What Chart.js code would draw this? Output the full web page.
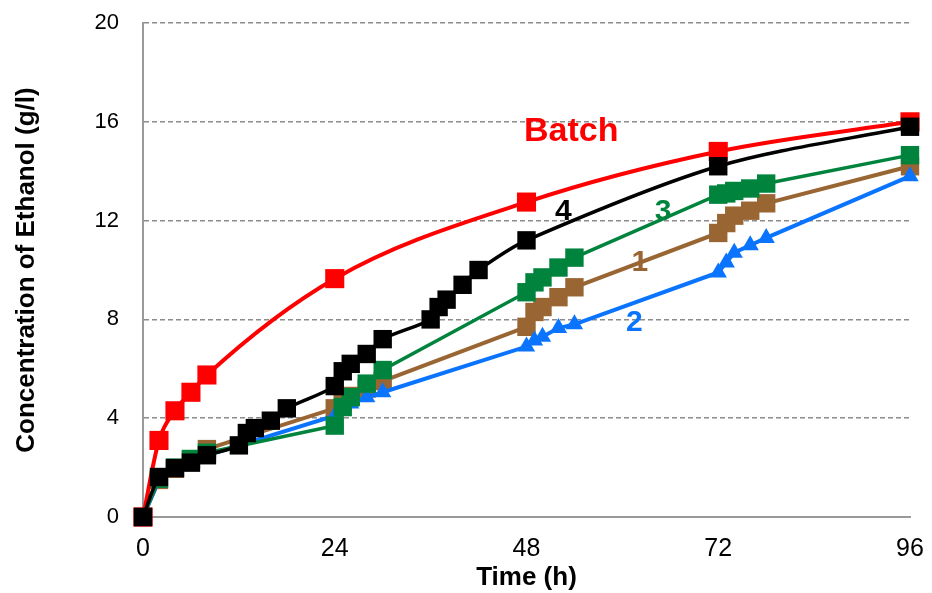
<!DOCTYPE html>
<html>
<head>
<meta charset="utf-8">
<script src="https://cdn.jsdelivr.net/npm/chart.js@4"></script>
<style>
  body { margin: 0; background: #fff; }
  #wrap { width: 932px; height: 593px; }
</style>
</head>
<body>
<div id="wrap"><canvas id="ethanolChart" width="932" height="593"></canvas></div>
<script>
// Sampling times (h)
const hoursBatch = [0, 2, 4, 6, 8, 24, 48, 72, 96];
const hoursFed = [0, 2, 4, 6, 8, 24, 25, 26, 28, 30, 48, 49, 50, 52, 54, 72, 73, 74, 76, 78, 96];
const hoursFour = [0, 2, 4, 6, 8, 12, 13, 14, 16, 18, 24, 25, 26, 28, 30, 36, 37, 38, 40, 42, 48, 72, 96];

// Ethanol concentration (g/l)
const batch = [0, 3.1, 4.3, 5.05, 5.75, 9.65, 12.75, 14.8, 16.0];
const feed1 = [0, 1.5, 1.95, 2.3, 2.75, 4.4, 4.7, 4.9, 5.2, 5.5, 7.7, 8.3, 8.5, 8.9, 9.3, 11.5, 11.9, 12.2, 12.4, 12.7, 14.2];
const feed2 = [0, 1.5, 1.9, 2.2, 2.5, 4.1, 4.4, 4.6, 4.85, 5.05, 6.9, 7.15, 7.3, 7.65, 7.8, 9.9, 10.3, 10.7, 11.0, 11.3, 13.8];
const feed3 = [0, 1.55, 2.0, 2.35, 2.6, 3.7, 4.45, 4.85, 5.4, 5.95, 9.1, 9.5, 9.7, 10.1, 10.5, 13.05, 13.1, 13.2, 13.3, 13.5, 14.65];
const feed4 = [0, 1.62, 1.98, 2.2, 2.5, 2.9, 3.4, 3.6, 3.9, 4.4, 5.3, 5.9, 6.2, 6.6, 7.2, 8.0, 8.5, 8.8, 9.4, 10.0, 11.2, 14.2, 15.8];

const xTicks = [0, 24, 48, 72, 96];
const yTicks = [0, 4, 8, 12, 16, 20];

function pts(xs, ys) {
  return xs.map((x, i) => ({ x: x, y: ys[i] }));
}

// series labels drawn next to the curves
const seriesLabels = [
  { text: 'Batch', x: 53.6, y: 15.6, color: '#FF0000', size: 34 },
  { text: '4', x: 52.6, y: 12.35, color: '#000000', size: 30 },
  { text: '3', x: 65.1, y: 12.35, color: '#00843D', size: 30 },
  { text: '1', x: 62.2, y: 10.3, color: '#996633', size: 30 },
  { text: '2', x: 61.5, y: 7.85, color: '#0A74FF', size: 30 }
];

const labelPlugin = {
  id: 'seriesLabels',
  afterDatasetsDraw(chart) {
    const ctx = chart.ctx;
    const xs = chart.scales.x, ys = chart.scales.y;
    ctx.save();
    ctx.textAlign = 'center';
    ctx.textBaseline = 'middle';
    seriesLabels.forEach(l => {
      ctx.font = 'bold ' + l.size + 'px Arial, "Liberation Sans", sans-serif';
      ctx.fillStyle = l.color;
      ctx.fillText(l.text, xs.getPixelForValue(l.x), ys.getPixelForValue(l.y));
    });
    ctx.restore();
  }
};

const ctx = document.getElementById('ethanolChart').getContext('2d');
new Chart(ctx, {
  type: 'line',
  data: {
    datasets: [
      {
        label: '4',
        data: pts(hoursFour, feed4),
        borderColor: '#000000',
        backgroundColor: '#000000',
        borderWidth: 3.5,
        tension: 0.3,
        clip: false,
        pointStyle: 'rect',
        pointRadius: 13,
        pointBorderWidth: 0
      },
      {
        label: 'Batch',
        data: pts(hoursBatch, batch),
        borderColor: '#FF0000',
        backgroundColor: '#FF0000',
        borderWidth: 4,
        cubicInterpolationMode: 'monotone',
        clip: false,
        pointStyle: 'rect',
        pointRadius: 13.5,
        pointBorderWidth: 0
      },
      {
        label: '3',
        data: pts(hoursFed, feed3),
        borderColor: '#00843D',
        backgroundColor: '#00843D',
        borderWidth: 3.5,
        clip: false,
        pointStyle: 'rect',
        pointRadius: 13,
        pointBorderWidth: 0
      },
      {
        label: '2',
        data: pts(hoursFed, feed2),
        borderColor: '#0A74FF',
        backgroundColor: '#0A74FF',
        borderWidth: 4,
        clip: false,
        pointStyle: 'triangle',
        pointRadius: 10,
        pointBorderWidth: 0
      },
      {
        label: '1',
        data: pts(hoursFed, feed1),
        borderColor: '#996633',
        backgroundColor: '#996633',
        borderWidth: 4,
        clip: false,
        pointStyle: 'rect',
        pointRadius: 13,
        pointBorderWidth: 0
      }
    ]
  },
  options: {
    responsive: false,
    animation: false,
    layout: { padding: { top: 23, right: 22, left: 0, bottom: 0 } },
    plugins: {
      legend: { display: false },
      tooltip: { enabled: false }
    },
    scales: {
      x: {
        type: 'linear',
        min: 0,
        max: 96,
        afterBuildTicks: s => { s.ticks = xTicks.map(v => ({ value: v })); },
        afterFit: s => {
          s.height = 76;
          s.paddingLeft = 0;
          s.paddingRight = 0;
        },
        grid: { display: false, drawTicks: false },
        border: { display: true, color: '#999999', width: 2 },
        ticks: {
          color: '#000000',
          padding: 17,
          font: { family: '"Liberation Sans Narrow", Arial, sans-serif', size: 25 }
        },
        title: {
          display: true,
          text: 'Time (h)',
          color: '#000000',
          padding: { top: 0, bottom: 0 },
          font: { family: '"Liberation Sans Narrow", Arial, sans-serif', size: 26, weight: 'bold' }
        }
      },
      y: {
        min: 0,
        max: 20,
        afterBuildTicks: s => { s.ticks = yTicks.map(v => ({ value: v })); },
        afterFit: s => {
          s.width = 143;
          s.paddingTop = 0;
          s.paddingBottom = 0;
        },
        grid: {
          drawTicks: false,
          color: c => (c.tick && c.tick.value === 0 ? 'rgba(0,0,0,0)' : '#8c8c8c'),
          lineWidth: 1.5
        },
        border: { display: true, color: '#999999', width: 2, dash: [5, 3] },
        ticks: {
          color: '#000000',
          padding: 24,
          font: { family: 'Arial, "Liberation Sans", sans-serif', size: 22 }
        },
        title: {
          display: true,
          text: 'Concentration of Ethanol (g/l)',
          color: '#000000',
          padding: { top: 11, bottom: 0 },
          font: { family: 'Arial, "Liberation Sans", sans-serif', size: 26, weight: 'bold' }
        }
      }
    }
  },
  plugins: [labelPlugin]
});
</script>
</body>
</html>
